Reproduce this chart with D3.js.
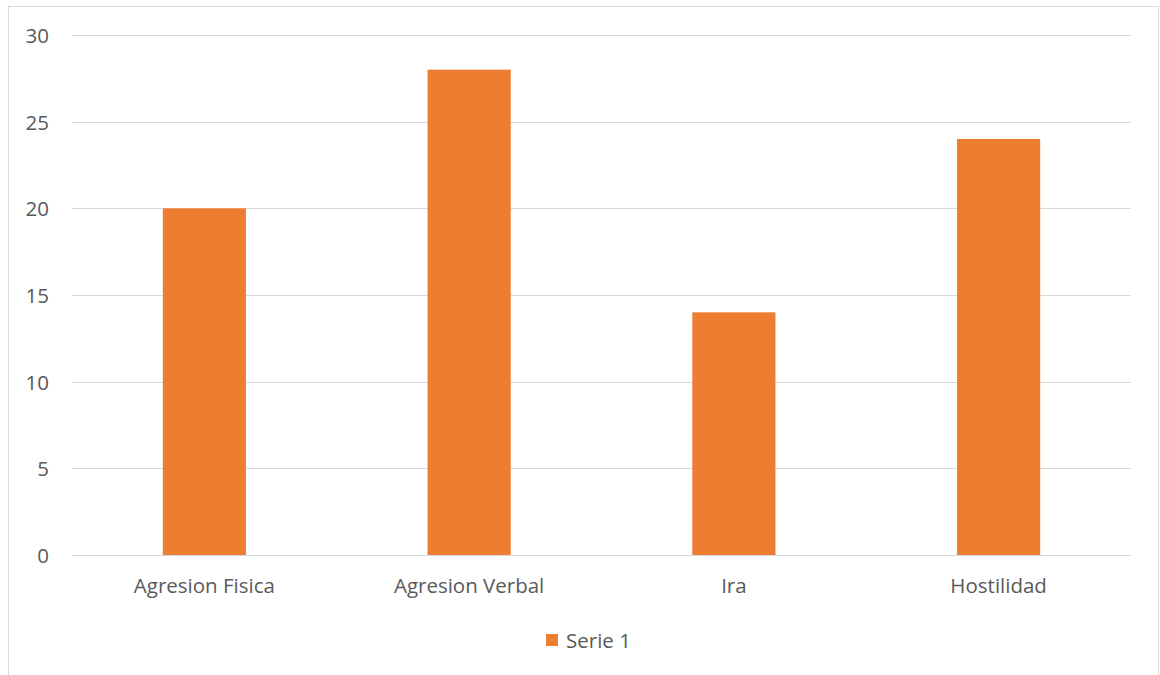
<!DOCTYPE html>
<html>
<head>
<meta charset="utf-8">
<script src="https://cdn.jsdelivr.net/npm/d3@7"></script>
<style>
  body { margin: 0; background: #fff; }
  svg { display: block; }
  text { font-family: "Open Sans", "Liberation Sans", sans-serif; fill: #595959; }
</style>
</head>
<body>
<svg id="grafico" width="1160" height="675"></svg>
<script>
// Datos del gráfico
var categorias = ["Agresion Fisica", "Agresion Verbal", "Ira", "Hostilidad"];
var valores = [20, 28, 14, 24];
var ticks = [0, 5, 10, 15, 20, 25, 30];
var serie = "Serie 1";

var ancho = 1160, alto = 675;
var margen = {izq: 72, der: 1131, arriba: 35, abajo: 555};
var svg = d3.select("#grafico");

// Marco exterior
svg.append("rect")
    .attr("x", 8.5).attr("y", 6.5)
    .attr("width", 1150).attr("height", 700)
    .attr("fill", "none")
    .attr("stroke", "#d9d9d9");

var x = d3.scaleBand()
    .domain(categorias)
    .range([margen.izq, margen.der])
    .paddingInner(0.686)
    .paddingOuter(0.343);

var y = d3.scaleLinear()
    .domain([0, 30])
    .range([margen.abajo, margen.arriba]);

// Líneas de la cuadrícula
svg.append("g")
    .selectAll("line")
    .data(ticks)
    .enter()
    .append("line")
    .attr("x1", margen.izq)
    .attr("x2", margen.der)
    .attr("y1", d => Math.round(y(d)) + 0.5)
    .attr("y2", d => Math.round(y(d)) + 0.5)
    .attr("stroke", "#d9d9d9")
    .attr("stroke-width", 1.2);

// Etiquetas del eje Y
svg.append("g")
    .selectAll("text")
    .data(ticks)
    .enter()
    .append("text")
    .attr("x", 49)
    .attr("y", d => y(d))
    .attr("text-anchor", "end")
    .attr("dominant-baseline", "central")
    .style("font-size", "20.5px")
    .text(d => d);

// Barras
svg.append("g")
    .selectAll("rect")
    .data(valores)
    .enter()
    .append("rect")
    .attr("x", (d, i) => x(categorias[i]))
    .attr("width", x.bandwidth())
    .attr("y", d => y(d))
    .attr("height", d => y(0) - y(d))
    .attr("fill", "#ED7D31");

// Etiquetas del eje X
svg.append("g")
    .selectAll("text")
    .data(categorias)
    .enter()
    .append("text")
    .attr("x", d => x(d) + x.bandwidth() / 2)
    .attr("y", 585)
    .attr("text-anchor", "middle")
    .attr("dominant-baseline", "central")
    .style("font-size", "20.5px")
    .text(d => d);

// Leyenda
var leyenda = svg.append("g").attr("transform", "translate(546,634)");
leyenda.append("rect")
    .attr("width", 12).attr("height", 12)
    .attr("fill", "#ED7D31");
leyenda.append("text")
    .attr("x", 20)
    .attr("y", 6)
    .attr("dominant-baseline", "central")
    .style("font-size", "20.5px")
    .text(serie);
</script>
</body>
</html>
